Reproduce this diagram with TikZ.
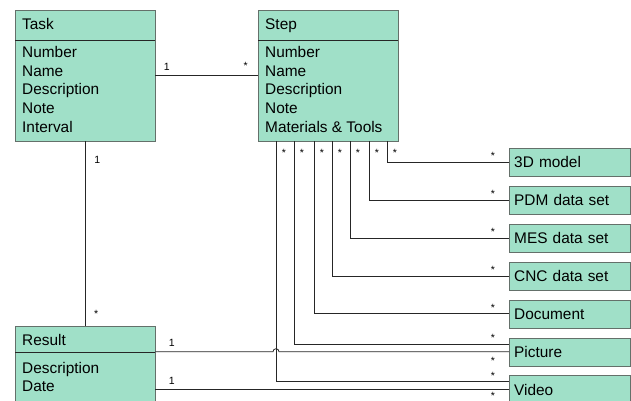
\documentclass[tikz,border=0pt]{standalone}
\usepackage{fontspec}
\setmainfont{Liberation Sans}
\usetikzlibrary{positioning,calc}

\definecolor{umlfill}{RGB}{160,224,200}
\definecolor{umlline}{RGB}{100,112,106}

\tikzset{
  classbox/.style={draw=umlline, fill=umlfill, minimum width=140pt, anchor=north west, inner sep=0pt},
  itembox/.style={draw=umlline, fill=umlfill, minimum width=121pt, minimum height=28pt,
    text width=111pt, inner xsep=5pt, inner ysep=0pt, text height=11pt, text depth=0pt,
    align=left, font=\umltext},
  attr/.style={anchor=base west, inner sep=0pt, font=\umltext},
  conn/.style={draw=black!85, line width=0.8pt},
  mult/.style={inner sep=0pt, font=\fontsize{10.5}{12}\selectfont},
}
\newcommand{\umltext}{\fontsize{15.4}{18.4}\selectfont}

\begin{document}
\begin{tikzpicture}[x=1pt, y=-1pt]
  \useasboundingbox[fill=white] (0,0) rectangle (631,400);

  % class Task
  \node[classbox, minimum height=131pt] (task) at (15,10) {};
  \draw[black!85] ($(task.north west)+(0,30)$) -- ($(task.north east)+(0,30)$);
  \node[attr] (tasktitle) at ($(task.north west)+(7,19)$) {Task};
  \foreach \a [count=\i] in {Number,Name,Description,Note,Interval}
    \node[attr] (taskattr\i) at ($(task.north west)+(7,29+18.6*\i)$) {\a};

  % class Step
  \node[classbox, minimum height=131pt] (step) at (258,10) {};
  \draw[black!85] ($(step.north west)+(0,30)$) -- ($(step.north east)+(0,30)$);
  \node[attr] (steptitle) at ($(step.north west)+(7,19)$) {Step};
  \foreach \a [count=\i] in {Number,Name,Description,Note,Materials \& Tools}
    \node[attr] (stepattr\i) at ($(step.north west)+(7,29+18.6*\i)$) {\a};

  % class Result
  \node[classbox, minimum height=90pt] (result) at (15,326) {};
  \draw[black!85] ($(result.north west)+(0,26)$) -- ($(result.north east)+(0,26)$);
  \node[attr] (resulttitle) at ($(result.north west)+(7,19)$) {Result};
  \foreach \a [count=\i] in {Description,Date}
    \node[attr] (resultattr\i) at ($(result.north west)+(7,29+18.4*\i)$) {\a};

  % materials and tools
  \node[itembox, anchor=north west] (model) at (509,148) {3D model};
  \node[itembox, below=9.5pt of model] (pdm) {PDM data set};
  \node[itembox, below=9.5pt of pdm] (mes) {MES data set};
  \node[itembox, below=9.5pt of mes] (cnc) {CNC data set};
  \node[itembox, below=9.5pt of cnc] (doc) {Document};
  \node[itembox, below=9.5pt of doc] (picture) {Picture};
  \node[itembox, below=9.5pt of picture] (video) {Video};

  % associations
  \draw[conn] (task.east) -- node[mult, pos=0.11, yshift=9pt] {1}
    node[mult, pos=0.88, yshift=10pt] {*} (step.west);
  \draw[conn] (task) -- node[mult, pos=0.1, xshift=12pt] {1}
    node[mult, pos=0.935, xshift=11pt] {*} (result);

  \foreach \dx/\target/\dy in {18/video/-8, 36/picture/-7.5, 56/doc/0, 74/cnc/0,
                               92/mes/0, 111/pdm/0, 129/model/0} {
    \draw[conn] ($(step.south west)+(\dx,0)$) |- ($(\target.west)+(0,\dy)$);
    \node[mult] at ($(step.south west)+(\dx+8,11)$) {*};
    \node[mult] at ($(\target.west)+(-16,\dy-6)$) {*};
  }

  % Result to Picture hops over the Video line
  \coordinate (hop) at ($(step.south west)+(18,0)$);
  \draw[conn] (result.east |- picture.west) node[mult, xshift=16.5pt, yshift=9pt] {1}
    -- ($(hop |- picture.west)+(-3,0)$) arc[start angle=180, end angle=0, radius=3pt]
    -- (picture.west) node[mult, xshift=-16pt, yshift=-9pt] {*};
  \draw[conn] (result.east |- video.west) node[mult, xshift=16.5pt, yshift=9pt] {1}
    -- (video.west) node[mult, xshift=-16pt, yshift=-6.5pt] {*};
\end{tikzpicture}
\end{document}
